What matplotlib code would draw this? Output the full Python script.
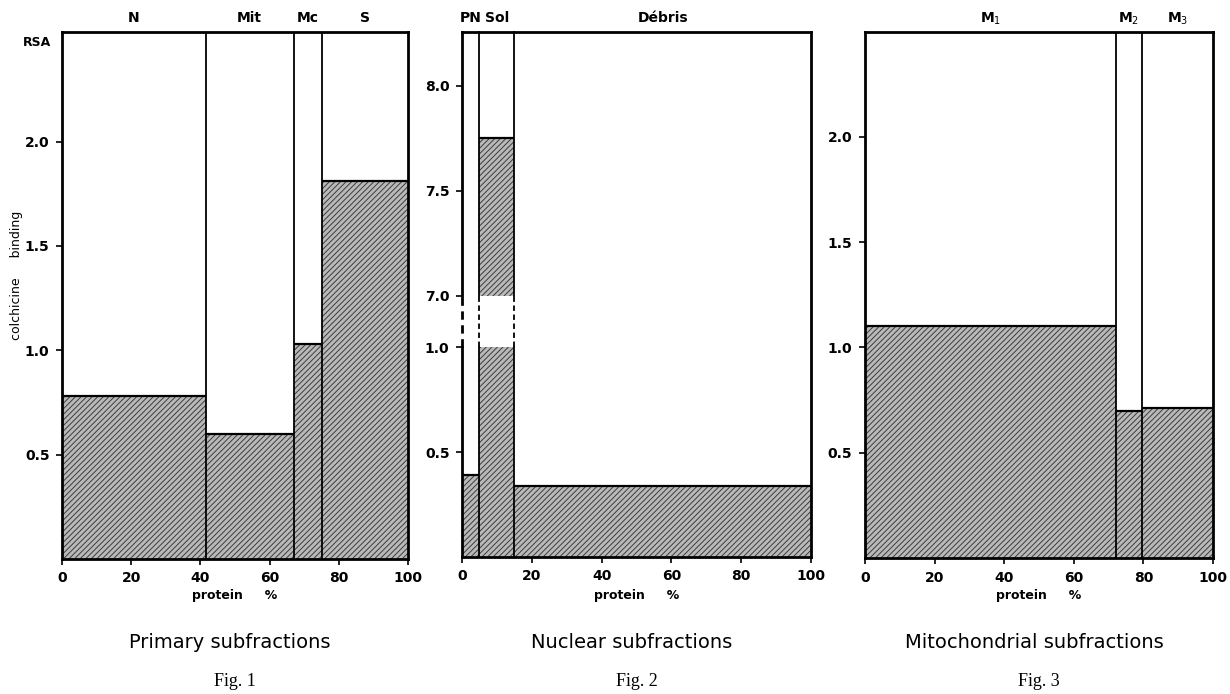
import numpy as np
import matplotlib
matplotlib.use("Agg")
import matplotlib.pyplot as plt
import matplotlib.transforms as mtrans

# ---------------- data ----------------
# Fig. 1 primary subfractions
p1_names = ["N", "Mit", "Mc", "S"]
p1_protein = [41.5, 25.5, 8.0, 25.0]        # % protein (widths)
p1_rsa = [0.78, 0.60, 1.03, 1.81]            # relative specific activity

# Fig. 2 nuclear subfractions (broken axis)
p2_names = ["PN", "Sol", "Débris"]
p2_protein = [5.0, 10.0, 85.0]
p2_rsa = [0.39, 7.75, 0.34]

# Fig. 3 mitochondrial subfractions
p3_names = ["M$_1$", "M$_2$", "M$_3$"]
p3_protein = [72.0, 7.5, 20.5]
p3_rsa = [1.10, 0.70, 0.71]

xticks = [0, 20, 40, 60, 80, 100]
yt_13 = [0.5, 1.0, 1.5, 2.0]
yt_2 = [0.5, 1.0, 7.0, 7.5, 8.0]
titles = ["Primary subfractions", "Nuclear subfractions", "Mitochondrial subfractions"]
figlabels = ["Fig. 1", "Fig. 2", "Fig. 3"]

# ---------------- style ----------------
W, H = 1230, 694
SANS = ["DejaVu Sans"]
SERIF = ["Liberation Serif", "DejaVu Serif"]
FACE = "#b9b9b9"
HATCHC = "#3c3c3c"
plt.rcParams["hatch.linewidth"] = 0.7
plt.rcParams["font.family"] = SANS
plt.rcParams["mathtext.fontset"] = "dejavusans"

fig = plt.figure(figsize=(W / 100, H / 100), dpi=100)
fig.patch.set_facecolor("white")


def px_axes(l, t, r, b):
    return fig.add_axes([l / W, 1 - b / H, (r - l) / W, (b - t) / H])


ax1 = px_axes(62, 32, 408, 559)
ax2 = px_axes(462, 32, 811, 557)
ax3 = px_axes(865, 32, 1213, 558)

# broken scale for Fig. 2
G = 0.245


def fwd(v):
    v = np.asarray(v, dtype=float)
    return np.where(v <= 1, v, np.where(v >= 7, 1 + G + (v - 7), 1 + G * (v - 1) / 6.0))


def inv(u):
    u = np.asarray(u, dtype=float)
    return np.where(u <= 1, u, np.where(u >= 1 + G, u - 1 - G + 7, 1 + (u - 1) * 6.0 / G))


def shade(ax, x0, w, y0, y1):
    ax.bar(x0, y1 - y0, width=w, bottom=y0, align="edge", color=FACE,
           edgecolor=HATCHC, hatch="//////", linewidth=0, zorder=1)


def outline(ax, x0, w, y1, lw=1.6):
    ax.plot([x0, x0 + w], [y1, y1], color="black", lw=lw, zorder=3, solid_capstyle="butt")


def style_axes(ax, ylim, yticks, ylabels):
    ax.set_xlim(0, 100)
    ax.set_ylim(*ylim)
    ax.set_xticks(xticks)
    ax.set_xticklabels([str(t) for t in xticks], fontsize=10, fontweight="bold")
    ax.set_yticks(yticks)
    ax.set_yticklabels(ylabels, fontsize=10, fontweight="bold")
    ax.tick_params(axis="both", direction="out", length=4, width=1.2, pad=5)
    for s in ax.spines.values():
        s.set_linewidth(2.0)
        s.set_zorder(5)


def cat_labels(ax, edges, names):
    tr = mtrans.blended_transform_factory(ax.transData, ax.transAxes)
    for i, n in enumerate(names):
        xc = (edges[i] + edges[i + 1]) / 2
        ax.text(xc, 1.026, n, transform=tr, ha="center", va="center",
                fontsize=10, fontweight="bold")


def simple_panel(ax, names, prot, rsa, ylim):
    edges = np.concatenate([[0], np.cumsum(prot)])
    for i in range(len(names)):
        shade(ax, edges[i], prot[i], 0, rsa[i])
        outline(ax, edges[i], prot[i], rsa[i])
    for e in edges[1:-1]:
        ax.axvline(e, color="black", lw=1.3, zorder=3)
    cat_labels(ax, edges, names)
    style_axes(ax, ylim, yt_13, [f"{v:.1f}" for v in yt_13])


simple_panel(ax1, p1_names, p1_protein, p1_rsa, (0, 2.525))
simple_panel(ax3, p3_names, p3_protein, p3_rsa, (0, 2.497))

# ---- Fig. 2 ----
ax2.set_yscale("function", functions=(fwd, inv))
edges2 = np.concatenate([[0], np.cumsum(p2_protein)])
for i in range(len(p2_names)):
    if p2_rsa[i] > 7:
        shade(ax2, edges2[i], p2_protein[i], 0, 1.0)
        shade(ax2, edges2[i], p2_protein[i], 7.0, p2_rsa[i])
    else:
        shade(ax2, edges2[i], p2_protein[i], 0, p2_rsa[i])
    outline(ax2, edges2[i], p2_protein[i], p2_rsa[i])
top2 = 8.255
style_axes(ax2, (0, top2), yt_2, [f"{v:.1f}" for v in yt_2])
ax2.spines["left"].set_visible(False)
for e in [edges2[0], edges2[1], edges2[2]]:
    lw = 2.0 if e == 0 else 1.3
    ax2.plot([e, e], [0, 1.0], color="black", lw=lw, zorder=4, clip_on=False)
    ax2.plot([e, e], [1.0, 7.0], color="black", lw=lw, ls=(0, (3, 2)), zorder=4, clip_on=False)
    ax2.plot([e, e], [7.0, top2], color="black", lw=lw, zorder=4, clip_on=False)
cat_labels(ax2, edges2, p2_names)

# ---- texts ----
for ax, t, fl in zip([ax1, ax2, ax3], titles, figlabels):
    pos = ax.get_position()
    xc = (pos.x0 + pos.x1) / 2
    fig.text(xc, 1 - 595 / H, "protein     %", ha="center", va="center", fontsize=9, fontweight="bold")
    fig.text(xc - 0.004, 1 - 642 / H, t, ha="center", va="center", fontsize=14)
    fig.text(xc, 1 - 682 / H, fl, ha="center", va="center", fontsize=13, family=SERIF)

fig.text(37 / W, 1 - 42 / H, "RSA", ha="center", va="center", fontsize=9, fontweight="bold")
fig.text(17 / W, 1 - 275 / H, "colchicine     binding", ha="center", va="center",
         rotation=90, fontsize=9)

fig.savefig("out.png", dpi=100, facecolor="white")
